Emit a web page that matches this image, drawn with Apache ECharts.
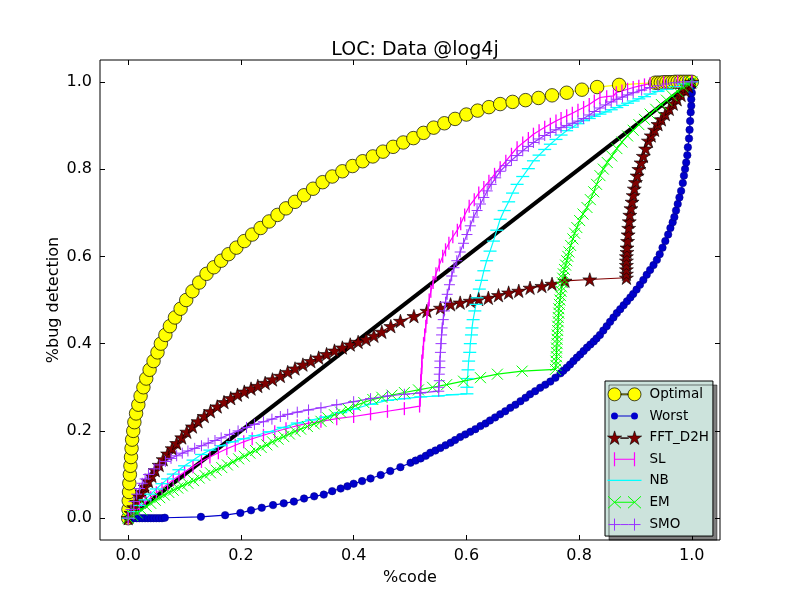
<!DOCTYPE html>
<html>
<head>
<meta charset="utf-8">
<script src="https://cdn.jsdelivr.net/npm/echarts@6/dist/echarts.min.js"></script>
<style>
html, body { margin: 0; padding: 0; background: #fff; }
#chart { width: 800px; height: 600px; }
</style>
</head>
<body>
<div id="chart"></div>
<script>
// tick positions on both axes
var tickValues = [0, 0.2, 0.4, 0.6, 0.8, 1.0];

// [%code, %bug detection]
var optimal = [[0,0],[0.0005,0.02],[0.001,0.04],[0.0015,0.06],[0.002,0.08],[0.003,0.1],[0.004,0.12],[0.005,0.14],[0.006,0.16],[0.007,0.18],
  [0.009,0.2],[0.011,0.22],[0.014,0.24],[0.018,0.26],[0.022,0.28],[0.027,0.3],[0.032,0.32],[0.038,0.34],[0.045,0.36],[0.052,0.38],
  [0.058,0.4],[0.066,0.42],[0.074,0.44],[0.083,0.46],[0.093,0.48],[0.103,0.5],[0.114,0.52],[0.126,0.54],[0.139,0.56],[0.152,0.575],
  [0.165,0.59],[0.178,0.605],[0.192,0.62],[0.206,0.635],[0.22,0.65],[0.235,0.665],[0.25,0.68],[0.265,0.695],[0.28,0.71],[0.296,0.725],
  [0.312,0.74],[0.328,0.755],[0.345,0.77],[0.362,0.783],[0.38,0.795],[0.398,0.807],[0.416,0.818],[0.434,0.829],[0.452,0.84],[0.47,0.851],
  [0.488,0.861],[0.506,0.871],[0.524,0.883],[0.542,0.895],[0.561,0.905],[0.58,0.915],[0.6,0.925],[0.62,0.934],[0.64,0.942],[0.66,0.949],
  [0.682,0.954],[0.705,0.958],[0.728,0.963],[0.752,0.969],[0.778,0.975],[0.805,0.982],[0.832,0.988],[0.871,0.993],[0.935,0.998],[0.94,0.998],
  [0.945,0.998],[0.95,0.999],[0.955,0.999],[0.96,0.999],[0.965,0.999],[0.97,1],[0.975,1],[0.98,1],[0.985,1],[0.99,1],[0.995,1],[1,1]];

var worst = [[0,0],[0.005,0],[0.01,0],[0.015,0],[0.02,0],[0.025,0],[0.03,0],[0.035,0],[0.04,0],[0.045,0],[0.05,0],[0.055,0],[0.06,0],[0.065,0.001],
  [0.129,0.003],[0.172,0.007],[0.199,0.012],[0.218,0.018],[0.237,0.024],[0.257,0.03],[0.276,0.034],[0.294,0.038],[0.312,0.045],[0.33,0.05],
  [0.347,0.054],[0.362,0.062],[0.377,0.068],[0.389,0.073],[0.4,0.079],[0.415,0.085],[0.43,0.091],[0.448,0.099],[0.465,0.108],[0.483,0.117],
  [0.501,0.127],[0.51,0.132],[0.519,0.137],[0.528,0.143],[0.536,0.15],[0.545,0.155],[0.554,0.161],[0.563,0.167],[0.572,0.173],[0.58,0.179],
  [0.589,0.186],[0.598,0.192],[0.607,0.198],[0.616,0.204],[0.625,0.211],[0.634,0.217],[0.642,0.224],[0.651,0.231],[0.66,0.238],[0.669,0.245],
  [0.678,0.253],[0.687,0.26],[0.696,0.268],[0.705,0.276],[0.713,0.284],[0.722,0.291],[0.731,0.299],[0.74,0.306],[0.749,0.313],[0.758,0.322],
  [0.767,0.332],[0.772,0.338],[0.778,0.345],[0.784,0.352],[0.79,0.36],[0.796,0.368],[0.802,0.375],[0.808,0.383],[0.814,0.391],[0.82,0.398],
  [0.826,0.405],[0.831,0.412],[0.837,0.42],[0.843,0.43],[0.849,0.44],[0.855,0.45],[0.861,0.46],[0.867,0.47],[0.873,0.479],[0.879,0.488],
  [0.885,0.497],[0.891,0.506],[0.896,0.514],[0.902,0.524],[0.908,0.535],[0.914,0.546],[0.92,0.558],[0.926,0.569],[0.932,0.58],[0.938,0.592],
  [0.943,0.605],[0.948,0.62],[0.953,0.635],[0.958,0.65],[0.962,0.665],[0.966,0.678],[0.969,0.69],[0.972,0.705],[0.975,0.72],[0.978,0.735],
  [0.981,0.75],[0.984,0.768],[0.986,0.785],[0.988,0.8],[0.99,0.815],[0.992,0.832],[0.993,0.85],[0.995,0.87],[0.996,0.89],[0.997,0.91],
  [0.998,0.93],[0.999,0.945],[0.999,0.96],[1,0.975],[1,0.99],[1,1]];

var fftD2H = [[0,0],[0.005,0.012],[0.01,0.025],[0.015,0.037],[0.02,0.05],[0.025,0.06],[0.03,0.072],[0.036,0.085],[0.042,0.097],[0.048,0.11],
  [0.055,0.122],[0.062,0.135],[0.07,0.148],[0.078,0.16],[0.086,0.172],[0.095,0.185],[0.104,0.198],[0.114,0.21],[0.124,0.222],[0.135,0.234],
  [0.146,0.245],[0.158,0.256],[0.17,0.266],[0.182,0.275],[0.194,0.283],[0.206,0.29],[0.218,0.297],[0.23,0.303],[0.243,0.31],[0.256,0.318],
  [0.27,0.326],[0.283,0.335],[0.296,0.343],[0.31,0.352],[0.324,0.36],[0.338,0.368],[0.352,0.376],[0.366,0.384],[0.38,0.391],[0.394,0.398],
  [0.408,0.404],[0.422,0.41],[0.436,0.418],[0.45,0.427],[0.466,0.44],[0.483,0.452],[0.507,0.463],[0.53,0.475],[0.554,0.482],[0.572,0.49],
  [0.589,0.494],[0.607,0.498],[0.622,0.502],[0.639,0.505],[0.657,0.511],[0.675,0.517],[0.693,0.521],[0.713,0.528],[0.734,0.532],[0.752,0.537],
  [0.775,0.544],[0.819,0.547],[0.884,0.551],[0.884,0.56],[0.884,0.57],[0.884,0.58],[0.884,0.59],[0.884,0.6],[0.885,0.61],[0.885,0.62],
  [0.886,0.635],[0.887,0.65],[0.888,0.665],[0.889,0.68],[0.89,0.695],[0.892,0.71],[0.894,0.725],[0.896,0.74],[0.898,0.755],[0.9,0.77],
  [0.903,0.785],[0.906,0.8],[0.91,0.815],[0.914,0.83],[0.918,0.847],[0.923,0.865],[0.928,0.877],[0.934,0.89],[0.94,0.903],[0.946,0.914],
  [0.953,0.926],[0.96,0.938],[0.967,0.95],[0.974,0.96],[0.981,0.97],[0.988,0.98],[0.994,0.99],[1,1]];

var sl = [[0,0],[0.01,0.012],[0.02,0.024],[0.03,0.036],[0.04,0.047],[0.05,0.058],[0.06,0.068],[0.07,0.078],[0.08,0.088],[0.09,0.097],
  [0.1,0.106],[0.115,0.118],[0.13,0.13],[0.145,0.14],[0.16,0.15],[0.175,0.159],[0.19,0.167],[0.205,0.175],[0.22,0.182],[0.24,0.19],
  [0.26,0.198],[0.28,0.205],[0.3,0.212],[0.32,0.218],[0.342,0.222],[0.37,0.228],[0.4,0.233],[0.43,0.239],[0.46,0.245],[0.49,0.251],
  [0.517,0.257],[0.518,0.27],[0.518,0.285],[0.519,0.3],[0.519,0.315],[0.52,0.33],[0.521,0.345],[0.521,0.36],[0.523,0.38],[0.524,0.4],
  [0.526,0.42],[0.528,0.44],[0.53,0.46],[0.532,0.48],[0.534,0.5],[0.537,0.52],[0.541,0.54],[0.546,0.56],[0.552,0.58],[0.558,0.6],
  [0.563,0.615],[0.569,0.63],[0.576,0.645],[0.584,0.66],[0.59,0.675],[0.597,0.695],[0.605,0.715],[0.614,0.73],[0.622,0.745],[0.631,0.758],
  [0.64,0.772],[0.65,0.788],[0.66,0.803],[0.67,0.818],[0.68,0.834],[0.69,0.849],[0.7,0.86],[0.71,0.87],[0.719,0.88],[0.729,0.888],
  [0.739,0.896],[0.749,0.903],[0.759,0.91],[0.768,0.916],[0.778,0.922],[0.788,0.928],[0.798,0.935],[0.808,0.941],[0.818,0.948],[0.827,0.956],
  [0.837,0.964],[0.849,0.966],[0.861,0.968],[0.866,0.975],[0.876,0.979],[0.886,0.983],[0.896,0.987],[0.906,0.99],[0.916,0.993],[0.926,0.996],
  [0.95,0.998],[0.975,1],[1,1]];

var nb = [[0,0],[0.01,0.015],[0.02,0.029],[0.03,0.042],[0.04,0.055],[0.05,0.067],[0.06,0.079],[0.07,0.09],[0.08,0.101],[0.09,0.111],
  [0.1,0.12],[0.115,0.133],[0.13,0.146],[0.145,0.156],[0.165,0.166],[0.185,0.175],[0.205,0.182],[0.225,0.189],[0.25,0.198],[0.275,0.208],
  [0.3,0.218],[0.325,0.225],[0.35,0.232],[0.377,0.242],[0.4,0.25],[0.43,0.261],[0.46,0.27],[0.49,0.274],[0.519,0.278],[0.55,0.28],
  [0.575,0.283],[0.601,0.285],[0.601,0.3],[0.602,0.32],[0.603,0.34],[0.604,0.36],[0.606,0.38],[0.607,0.4],[0.609,0.42],[0.61,0.436],
  [0.612,0.455],[0.615,0.475],[0.617,0.49],[0.619,0.505],[0.623,0.525],[0.627,0.545],[0.631,0.567],[0.636,0.59],[0.642,0.612],[0.648,0.635],
  [0.654,0.66],[0.66,0.685],[0.667,0.705],[0.675,0.725],[0.682,0.745],[0.69,0.765],[0.7,0.783],[0.71,0.801],[0.719,0.819],[0.729,0.832],
  [0.739,0.845],[0.749,0.857],[0.759,0.868],[0.768,0.878],[0.778,0.888],[0.788,0.896],[0.798,0.904],[0.808,0.911],[0.818,0.916],[0.827,0.921],
  [0.837,0.926],[0.847,0.931],[0.857,0.936],[0.867,0.941],[0.877,0.946],[0.886,0.951],[0.896,0.956],[0.906,0.961],[0.916,0.966],[0.926,0.972],
  [0.94,0.978],[0.955,0.983],[0.97,0.989],[0.985,0.995],[1,1]];

var em = [[0,0],[0.008,0.006],[0.016,0.012],[0.024,0.019],[0.032,0.027],[0.04,0.034],[0.048,0.041],[0.056,0.047],[0.064,0.053],[0.072,0.059],
  [0.08,0.064],[0.088,0.069],[0.096,0.074],[0.106,0.08],[0.116,0.086],[0.126,0.092],[0.136,0.098],[0.146,0.104],[0.156,0.11],[0.166,0.116],
  [0.176,0.122],[0.186,0.129],[0.196,0.136],[0.206,0.142],[0.216,0.149],[0.226,0.155],[0.236,0.162],[0.246,0.168],[0.256,0.175],[0.266,0.181],
  [0.276,0.187],[0.286,0.193],[0.296,0.199],[0.306,0.204],[0.318,0.21],[0.33,0.216],[0.342,0.222],[0.354,0.23],[0.366,0.237],[0.377,0.243],
  [0.39,0.25],[0.403,0.258],[0.418,0.265],[0.434,0.272],[0.45,0.277],[0.468,0.282],[0.49,0.288],[0.515,0.294],[0.54,0.3],[0.565,0.306],
  [0.595,0.314],[0.625,0.322],[0.655,0.33],[0.699,0.337],[0.758,0.341],[0.759,0.35],[0.759,0.36],[0.76,0.37],[0.76,0.38],[0.76,0.39],
  [0.761,0.4],[0.761,0.41],[0.761,0.42],[0.762,0.43],[0.762,0.44],[0.763,0.45],[0.763,0.46],[0.764,0.47],[0.764,0.48],[0.765,0.49],
  [0.766,0.5],[0.767,0.51],[0.768,0.52],[0.769,0.53],[0.77,0.54],[0.771,0.55],[0.772,0.56],[0.774,0.57],[0.776,0.58],[0.778,0.59],
  [0.78,0.6],[0.782,0.61],[0.785,0.625],[0.789,0.64],[0.792,0.653],[0.796,0.666],[0.801,0.682],[0.807,0.697],[0.814,0.712],[0.82,0.73],
  [0.826,0.748],[0.831,0.765],[0.837,0.785],[0.843,0.8],[0.85,0.815],[0.858,0.83],[0.867,0.847],[0.876,0.862],[0.886,0.876],[0.896,0.889],
  [0.906,0.902],[0.916,0.914],[0.926,0.926],[0.936,0.937],[0.946,0.948],[0.955,0.958],[0.965,0.968],[0.975,0.978],[0.985,0.988],[0.993,0.995],[1,1]];

var smo = [[0,0],[0.005,0.02],[0.01,0.038],[0.015,0.055],[0.02,0.068],[0.025,0.08],[0.03,0.09],[0.036,0.1],[0.046,0.113],[0.056,0.122],
  [0.066,0.13],[0.076,0.137],[0.086,0.143],[0.096,0.149],[0.106,0.154],[0.118,0.16],[0.13,0.166],[0.142,0.172],[0.154,0.178],[0.165,0.184],
  [0.18,0.192],[0.195,0.2],[0.21,0.208],[0.224,0.215],[0.24,0.221],[0.255,0.227],[0.27,0.233],[0.283,0.238],[0.3,0.243],[0.32,0.248],
  [0.342,0.253],[0.37,0.26],[0.4,0.267],[0.43,0.274],[0.46,0.28],[0.49,0.284],[0.519,0.287],[0.551,0.291],[0.551,0.3],[0.552,0.315],
  [0.552,0.33],[0.553,0.345],[0.553,0.36],[0.554,0.38],[0.555,0.4],[0.556,0.42],[0.557,0.436],[0.559,0.455],[0.561,0.475],[0.563,0.495],
  [0.566,0.513],[0.57,0.535],[0.574,0.555],[0.578,0.574],[0.583,0.59],[0.589,0.61],[0.595,0.63],[0.601,0.65],[0.607,0.67],[0.613,0.69],
  [0.619,0.705],[0.625,0.72],[0.631,0.735],[0.637,0.75],[0.644,0.765],[0.652,0.78],[0.66,0.795],[0.67,0.808],[0.68,0.82],[0.69,0.831],
  [0.7,0.842],[0.71,0.852],[0.719,0.861],[0.729,0.869],[0.739,0.877],[0.749,0.884],[0.759,0.89],[0.768,0.895],[0.778,0.9],[0.788,0.905],
  [0.798,0.91],[0.808,0.916],[0.818,0.924],[0.827,0.932],[0.837,0.94],[0.847,0.947],[0.857,0.954],[0.867,0.96],[0.877,0.965],[0.886,0.97],
  [0.896,0.975],[0.911,0.981],[0.926,0.987],[0.94,0.991],[0.955,0.995],[0.97,0.998],[0.985,1],[1,1]];

// random-ordering baseline (black diagonal, not in the legend)
var diagonal = [[0,0],[1,1]];

var FONT = 'DejaVu Sans';

// marker shapes, matplotlib style
var STAR = 'path://M50,0L61.23,34.55L97.55,34.55L68.17,55.9L79.39,90.45L50,69.1L20.61,90.45L31.83,55.9L2.45,34.55L38.77,34.55Z';
var VBAR = 'path://M0,0H1V10H0Z';
var HBAR = 'path://M0,0H10V1H0Z';
var XMARK = 'path://M0,0L10,10M10,0L0,10';
var PLUS = 'path://M5,0L5,10M0,5L10,5';

// legend handles: two markers joined by the line (box 37 x 14)
var legendIcons = {
    'Optimal': 'path://M0,0M37,14M0.5,7A6.5,6.5 0 1,1 13.5,7A6.5,6.5 0 1,1 0.5,7ZM20.5,7A6.5,6.5 0 1,1 33.5,7A6.5,6.5 0 1,1 20.5,7ZM13.5,6.5H20.5V7.5H13.5Z',
    'Worst': 'path://M0,0M37,14M3.5,7A3.5,3.5 0 1,1 10.5,7A3.5,3.5 0 1,1 3.5,7ZM23.5,7A3.5,3.5 0 1,1 30.5,7A3.5,3.5 0 1,1 23.5,7ZM10.5,6.4H23.5V7.6H10.5Z',
    'FFT_D2H': 'path://M0,0M37,14M7,0.3L8.68,5.48L14.13,5.48L9.73,8.69L11.41,13.87L7,10.67L2.59,13.87L4.28,8.69L-0.13,5.48L5.32,5.48Z' +
               'M27,0.3L28.68,5.48L34.13,5.48L29.73,8.69L31.41,13.87L27,10.67L22.59,13.87L24.28,8.69L19.87,5.48L25.32,5.48ZM13,7.1H21V7.9H13Z',
    'SL': 'path://M0,0M37,14M6.4,0H7.6V14H6.4ZM26.4,0H27.6V14H26.4ZM7.6,6.5H26.4V7.5H7.6Z',
    'NB': 'path://M0,0M37,14M0,6.4H34V7.6H0Z',
    'EM': 'path://M0,0M37,14M0.5,1L13.5,13M13.5,1L0.5,13M20.5,1L33.5,13M33.5,1L20.5,13M7,7L27,7',
    'SMO': 'path://M0,0M37,14M7,1V13M1,7H13M27,1V13M21,7H33M13,7H21'
};

function makeSeries(name, data, color, symbol, size, itemStyle, lineWidth) {
    return {
        type: 'line',
        name: name,
        data: data,
        symbol: symbol,
        symbolSize: size,
        showSymbol: symbol !== 'none',
        itemStyle: itemStyle,
        lineStyle: { color: color, width: lineWidth },
        emphasis: { disabled: true },
        z: 2
    };
}

var series = [
    makeSeries('Optimal', optimal, '#ffff00', 'circle', 13.5,
        { color: '#ffff00', borderColor: '#000', borderWidth: 0.7 }, 1.2),
    makeSeries('Worst', worst, '#0000cc', 'circle', 7.5,
        { color: '#0000cc', borderColor: '#000080', borderWidth: 0.5 }, 1.2),
    makeSeries('FFT_D2H', fftD2H, '#800000', STAR, [14, 13.5],
        { color: '#800000', borderColor: '#000', borderWidth: 0.6 }, 1.2),
    makeSeries('', diagonal, '#000', 'none', 0, { color: '#000' }, 4),
    makeSeries('SL', sl, '#ff00ff', VBAR, [1.3, 13],
        { color: '#ff00ff', borderWidth: 0 }, 1.2),
    makeSeries('NB', nb, '#00ffff', HBAR, [13, 1.3],
        { color: '#00ffff', borderWidth: 0 }, 1.2),
    makeSeries('EM', em, '#00ff00', XMARK, 11,
        { color: '#00ff00', borderColor: '#00ff00', borderWidth: 1 }, 1.2),
    makeSeries('SMO', smo, '#9933ff', PLUS, 11,
        { color: '#9933ff', borderColor: '#9933ff', borderWidth: 1 }, 1.2)
];

var legendData = [
    { name: 'Optimal', icon: legendIcons['Optimal'], itemStyle: { borderWidth: 0.7 } },
    { name: 'Worst', icon: legendIcons['Worst'], itemStyle: { borderWidth: 0 } },
    { name: 'FFT_D2H', icon: legendIcons['FFT_D2H'], itemStyle: { borderWidth: 0.6 } },
    { name: 'SL', icon: legendIcons['SL'], itemStyle: { borderWidth: 0 } },
    { name: 'NB', icon: legendIcons['NB'], itemStyle: { borderWidth: 0 } },
    { name: 'EM', icon: legendIcons['EM'], itemStyle: { borderWidth: 1 } },
    { name: 'SMO', icon: legendIcons['SMO'], itemStyle: { borderWidth: 1 } }
];

function tickFmt(v) { return v.toFixed(1); }

function valueAxis(pos, showLabels, extra) {
    var ax = {
        type: 'value',
        position: pos,
        min: -0.05,
        max: 1.05,
        axisLine: { show: false, onZero: false },
        splitLine: { show: false },
        axisTick: {
            show: true, inside: true, length: 5, customValues: tickValues,
            lineStyle: { color: '#000', width: 1 }
        },
        axisLabel: {
            show: showLabels, customValues: tickValues, formatter: tickFmt,
            color: '#000', fontFamily: FONT, fontSize: 16
        }
    };
    for (var k in extra) ax[k] = extra[k];
    return ax;
}

var chart = echarts.init(document.getElementById('chart'), null, { renderer: 'canvas' });

chart.setOption({
    animation: false,
    backgroundColor: '#fff',
    textStyle: { fontFamily: FONT },
    title: {
        text: 'LOC: Data @log4j',
        left: 410,
        top: 36,
        textAlign: 'center',
        textStyle: { fontFamily: FONT, fontSize: 19, fontWeight: 'normal', color: '#000' }
    },
    grid: {
        left: 100, top: 60, width: 620, height: 480,
        show: true, borderColor: '#000', borderWidth: 1, backgroundColor: '#fff',
        containLabel: false
    },
    xAxis: [
        valueAxis('bottom', true, {
            name: '%code', nameLocation: 'middle', nameGap: 30, nameMoveOverlap: false,
            nameTextStyle: { fontFamily: FONT, fontSize: 16, color: '#000' }
        }),
        valueAxis('top', false, {})
    ],
    yAxis: [
        valueAxis('left', true, {
            name: '%bug detection', nameLocation: 'middle', nameGap: 38, nameMoveOverlap: false,
            nameTextStyle: { fontFamily: FONT, fontSize: 16, color: '#000' }
        }),
        valueAxis('right', false, {})
    ],
    legend: {
        data: legendData,
        orient: 'vertical',
        left: 605,
        top: 381,
        itemWidth: 37,
        itemHeight: 14,
        itemGap: 7.3,
        padding: [6, 4, 4, 2],
        backgroundColor: '#cce3dc',
        borderColor: '#000',
        borderWidth: 1,
        borderRadius: 0,
        shadowColor: 'rgba(0,0,0,0.5)',
        shadowBlur: 0,
        shadowOffsetX: 4,
        shadowOffsetY: 4,
        selectedMode: false,
        textStyle: { fontFamily: FONT, fontSize: 13.5, color: '#000', lineHeight: 14 }
    },
    series: series
});
</script>
</body>
</html>
